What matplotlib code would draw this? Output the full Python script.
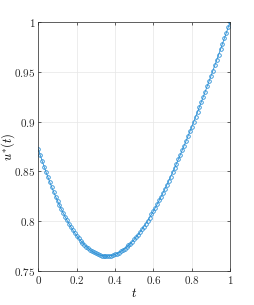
import numpy as np
import matplotlib
matplotlib.use("Agg")
import matplotlib.pyplot as plt

plt.rcParams["mathtext.fontset"] = "cm"

t = np.linspace(0, 1, 101)

u = [0.8721, 0.8662, 0.8604, 0.8548, 0.8493, 0.8441, 0.8390, 0.8340, 0.8293, 0.8247,
     0.8203, 0.8160, 0.8119, 0.8080, 0.8043, 0.8007, 0.7973, 0.7941, 0.7910, 0.7881,
     0.7854, 0.7829, 0.7805, 0.7783, 0.7762, 0.7744, 0.7727, 0.7711, 0.7698, 0.7686,
     0.7676, 0.7667, 0.7660, 0.7655, 0.7652, 0.7650, 0.7650, 0.7652, 0.7655, 0.7660,
     0.7667, 0.7675, 0.7684, 0.7696, 0.7708, 0.7723, 0.7739, 0.7756, 0.7775, 0.7795,
     0.7817, 0.7840, 0.7864, 0.7890, 0.7917, 0.7945, 0.7974, 0.8004, 0.8036, 0.8069,
     0.8102, 0.8137, 0.8173, 0.8209, 0.8247, 0.8285, 0.8325, 0.8365, 0.8406, 0.8448,
     0.8490, 0.8533, 0.8577, 0.8621, 0.8666, 0.8712, 0.8759, 0.8805, 0.8853, 0.8901,
     0.8949, 0.8998, 0.9048, 0.9097, 0.9148, 0.9199, 0.9250, 0.9301, 0.9353, 0.9405,
     0.9458, 0.9511, 0.9564, 0.9618, 0.9672, 0.9726, 0.9781, 0.9835, 0.9890, 0.9946,
     1.0000]

xticks = [0, 0.2, 0.4, 0.6, 0.8, 1]
xticklabels = ["$0$", "$0.2$", "$0.4$", "$0.6$", "$0.8$", "$1$"]
yticks = [0.75, 0.8, 0.85, 0.9, 0.95, 1]
yticklabels = ["$0.75$", "$0.8$", "$0.85$", "$0.9$", "$0.95$", "$1$"]

fig = plt.figure(figsize=(2.54, 3.05), dpi=100)
ax = fig.add_axes([0.151, 0.1115, 0.755, 0.8165])

ax.plot(t, u, "-o", color="#2a8fd6", lw=0.6, ms=2.6, mew=0.6, mfc="none")

ax.set_xlim(0, 1)
ax.set_ylim(0.75, 1)
ax.set_xticks(xticks)
ax.set_xticklabels(xticklabels)
ax.set_yticks(yticks)
ax.set_yticklabels(yticklabels)
ax.tick_params(direction="in", length=2.5, width=0.5, top=True, right=True,
               labelsize=8, colors="#262626", pad=2)
for s in ax.spines.values():
    s.set_linewidth(0.5)
    s.set_color("#262626")
ax.grid(True, color="#e6e6e6", lw=0.5)
ax.set_axisbelow(True)

ax.set_xlabel("$t$", fontsize=9, labelpad=1)
ax.set_ylabel("$u^{*}(t)$", fontsize=9, labelpad=-2)

fig.savefig("out.png", dpi=100)
